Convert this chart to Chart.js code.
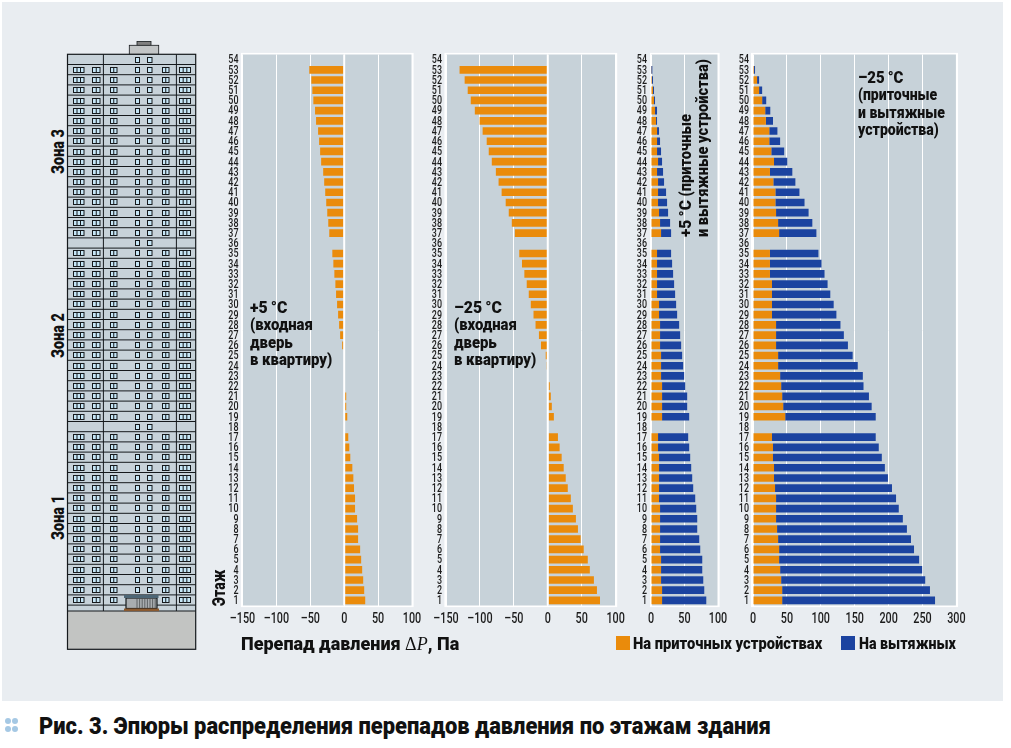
<!DOCTYPE html>
<html lang="ru">
<head>
  <meta charset="UTF-8"/>
  <title>Рис. 3</title>
  <script src="https://cdn.jsdelivr.net/npm/chart.js"></script>
  <style>
    html, body { margin: 0; padding: 0; background: #fff; }
    body { width: 1011px; height: 748px; position: relative; overflow: hidden; color: #111;
           font-family: Roboto, sans-serif; font-weight: 900; }
    #panel { position: absolute; left: 2px; top: 2px; width: 1001px; height: 699px; background: #e9edf1; }
    canvas { position: absolute; }
    #building { position: absolute; left: 0; top: 0; }
    .txt { position: absolute; white-space: nowrap; transform-origin: 0 0; }
    .note { font-size: 16px; line-height: 17.4px; }
    .big { font-size: 17px; }
    .rot { font-size: 18px; }
    .sq { position: absolute; width: 14px; height: 14px; top: 636px; }
    .dot { position: absolute; width: 6px; height: 6px; border-radius: 50%; background: #a5c8e4; }
  </style>
</head>
<body>
  <div id="panel"></div>
  <svg id="building" width="210" height="660"></svg>

  <canvas id="chartA" width="219" height="600" style="left:205px;top:40px"></canvas>
  <canvas id="chartB" width="206" height="600" style="left:424px;top:40px"></canvas>
  <canvas id="chartC" width="103" height="600" style="left:630px;top:40px"></canvas>
  <canvas id="chartD" width="242" height="600" style="left:733px;top:40px"></canvas>

  <div class="txt rot" style="left:47px;top:174px;transform:rotate(-90deg) scaleX(.8)">Зона 3</div>
  <div class="txt rot" style="left:47px;top:358px;transform:rotate(-90deg) scaleX(.8)">Зона 2</div>
  <div class="txt rot" style="left:47px;top:540px;transform:rotate(-90deg) scaleX(.8)">Зона 1</div>
  <div class="txt rot" style="left:208px;top:606px;transform:rotate(-90deg) scaleX(.78)">Этаж</div>

  <div class="txt note" style="left:250px;top:299px;transform:scaleX(.93)"><span class="big">+5&#8201;°C</span><br>(входная<br>дверь<br>в квартиру)</div>
  <div class="txt note" style="left:454px;top:299px;transform:scaleX(.93)"><span class="big">–25&#8201;°C</span><br>(входная<br>дверь<br>в квартиру)</div>
  <div class="txt note" style="left:858px;top:69px;transform:scaleX(.88)"><span class="big">–25&#8201;°C</span><br>(приточные<br>и вытяжные<br>устройства)</div>
  <div class="txt note" style="left:677px;top:237px;transform:rotate(-90deg) scaleX(.915)"><span class="big">+5&#8201;°C</span> (приточные<br>и вытяжные устройства)</div>

  <div class="txt" style="left:241px;top:632px;font-size:19px;transform:scaleX(.947)">Перепад давления <span style="font-family:'Liberation Serif';font-weight:normal">Δ<i>P</i></span>, Па</div>

  <div class="sq" style="left:616px;background:#ea8b0b"></div>
  <div class="txt" style="left:633px;top:634px;font-size:16px;transform:scaleX(.919)">На приточных устройствах</div>
  <div class="sq" style="left:841px;background:#1b43a0"></div>
  <div class="txt" style="left:859px;top:634px;font-size:16px;transform:scaleX(.888)">На вытяжных</div>

  <div class="dot" style="left:5px;top:718px"></div>
  <div class="dot" style="left:12px;top:718px"></div>
  <div class="dot" style="left:5px;top:726px"></div>
  <div class="dot" style="left:12px;top:726px"></div>
  <div class="txt" id="caption" style="left:39px;top:712px;font-size:24px;transform:scaleX(.912)">Рис. 3. Эпюры распределения перепадов давления по этажам здания</div>

  <script>
    const floors = [54,53,52,51,50,49,48,47,46,45,44,43,42,41,40,39,38,37,36,35,34,33,32,31,30,29,28,27,
      26,25,24,23,22,21,20,19,18,17,16,15,14,13,12,11,10,9,8,7,6,5,4,3,2,1];

    // входная дверь, +5 и -25
    const doorPlus5 = [null,-51.5,-48.5,-47,-45.5,-43,-41.5,-38.5,-37,-35.5,-34,-31,-29.5,-28,-26.5,-25,-23.5,-22,
      null,-17.5,-16,-14.5,-13,-12,-10.5,-9,-7.5,-6,-3,null,null,null,null,3,3,4.5,
      null,6,7.5,9,12,13.5,14.5,16,16,19,20.5,20.5,23.5,25,26.5,28,29.5,31];
    const doorMinus25 = [null,-130,-122.5,-118,-113.5,-107.5,-100.5,-96,-90,-87,-82.5,-76.5,-72.5,-68,-62,-57.5,-53,-48.5,
      null,-42,-38,-34.5,-31,-28,-25,-21,-18,-13,-10,-3,-1.5,null,3,4.5,6,9,
      null,15,17.5,20.5,23.5,26.5,29.5,34,37,41.5,44.5,48.5,53,59,62,68,72.5,77];

    // приточные / вытяжные, +5
    const supplyPlus5 = [null,0.5,1.5,3,4.5,6,7.5,9,9,9,10.5,9,10.5,10.5,10.5,12,13.5,15,
      null,9,9,9,9,9,12,12,13.5,13.5,13.5,15,15,15,16.5,16.5,16.5,16.5,
      null,10.5,10.5,12,12,12,12,12,13.5,13.5,13.5,13.5,13.5,15,15,15,16.5,16.5];
    const exhaustPlus5 = [null,1.5,1.5,1.5,1.5,3,1.5,3,4.5,6,6,9,9,12,13.5,13.5,15,15,
      null,21,22.5,24,25.5,27,25.5,27,28.5,30,31.5,31.5,33,34.5,34.5,37.5,37.5,40.5,
      null,45,46.5,46.5,48,49.5,51,54,54,55.5,55.5,58.5,60,61.5,61.5,63,63,66];

    // приточные / вытяжные, -25
    const supplyMinus25 = [null,1.5,6,9,13.5,18,19,24,24,27,31,25,30,33,33,34,37,38.5,
      null,25,25,25,28,28,28,28,34,34,34,37,37,40,41.5,43,44.5,47.5,
      null,28,29.5,29.5,31,31,32.5,34,34,34,35.5,37,38.5,38.5,40,41.5,43,43];
    const exhaustMinus25 = [null,1.5,3,4.5,6,7.5,10.5,12,16,19,19.5,33,32.5,35.5,43,48,50.5,55,
      null,71.5,76,80.5,82,86,91,95,95,100,106,110,117.5,122,121.5,128,130.5,133.5,
      null,153,156,160.5,163.5,168,172.5,177,181,187,191.5,196,199,206.5,209.5,212.5,218,225.5];

    const orange = '#ea8b0b';
    const blue = '#1b43a0';
    const plotColor = '#c7d2d9';

    function fmtTick(v) { return v < 0 ? '–' + Math.abs(v) : String(v); }

    // подписи делений сжаты по ширине, как узкий шрифт в оригинале
    function narrowText(ctx, text, x, y, k) {
      ctx.save();
      ctx.translate(x, y);
      ctx.scale(k, 1);
      ctx.fillText(text, 0, 0);
      ctx.restore();
    }

    // серый фон с белой рамкой, белая линия нуля поверх столбцов, подписи осей
    const framePlugin = {
      id: 'frame',
      beforeDraw(chart) {
        const { ctx, chartArea: a } = chart;
        const o = chart.options.frameLeft;
        ctx.fillStyle = '#fff';
        ctx.fillRect(a.left - o, a.top - 1.6, a.right - a.left + o + 1.6, a.bottom - a.top + 3.2);
        ctx.fillStyle = plotColor;
        ctx.fillRect(a.left, a.top, a.right - a.left - 0.5, a.bottom - a.top);
      },
      afterDatasetsDraw(chart) {
        const x = chart.scales.x;
        if (x.min >= 0) return;
        const { ctx, chartArea: a } = chart;
        ctx.fillStyle = '#fff';
        ctx.fillRect(x.getPixelForValue(0) - 1, a.top, 2, a.bottom - a.top);
      },
      afterDraw(chart) {
        const { ctx, chartArea: a, scales } = chart;
        ctx.save();
        ctx.fillStyle = '#1c1c1c';
        ctx.textBaseline = 'middle';
        ctx.font = '500 13.5px Roboto';
        ctx.textAlign = 'right';
        scales.y.ticks.forEach((t, i) => {
          narrowText(ctx, t.label, a.left - 4, scales.y.getPixelForTick(i) + 0.5, 0.66);
        });
        ctx.font = '500 15px Roboto';
        ctx.textAlign = 'center';
        scales.x.ticks.forEach((t, i) => {
          narrowText(ctx, t.label, scales.x.getPixelForTick(i), a.bottom + 14, 0.72);
        });
        ctx.restore();
      }
    };

    function makeChart(id, datasets, cfg) {
      const el = document.getElementById(id);
      return new Chart(el, {
        type: 'bar',
        data: { labels: floors, datasets },
        plugins: [framePlugin],
        options: {
          indexAxis: 'y',
          responsive: false,
          animation: false,
          frameLeft: cfg.frameLeft,
          layout: { padding: { top: 14.5, right: el.width - cfg.right, bottom: 0, left: 0 } },
          plugins: { legend: { display: false }, tooltip: { enabled: false } },
          datasets: { bar: { categoryPercentage: 0.75, barPercentage: 1 } },
          scales: {
            x: {
              stacked: cfg.stacked,
              min: cfg.min,
              max: cfg.max,
              afterFit(s) { s.height = 34.5; },
              border: { display: false },
              grid: { color: '#fff', lineWidth: 1, drawTicks: false },
              ticks: { display: false, stepSize: 50, callback: fmtTick }
            },
            y: {
              stacked: cfg.stacked,
              afterFit(s) { s.width = cfg.left; },
              border: { display: false },
              grid: { display: false, drawTicks: false },
              ticks: { display: false }
            }
          }
        }
      });
    }

    makeChart('chartA', [{ data: doorPlus5, backgroundColor: orange }],
      { left: 37.5, right: 207, min: -150, max: 100, frameLeft: 1.6 });
    makeChart('chartB', [{ data: doorMinus25, backgroundColor: orange }],
      { left: 22, right: 191.6, min: -150, max: 100, frameLeft: 1.6 });
    makeChart('chartC', [
      { data: supplyPlus5, backgroundColor: orange },
      { data: exhaustPlus5, backgroundColor: blue }
    ], { left: 21, right: 88, min: 0, max: 100, stacked: true, frameLeft: 1 });
    makeChart('chartD', [
      { data: supplyMinus25, backgroundColor: orange },
      { data: exhaustMinus25, backgroundColor: blue }
    ], { left: 20, right: 223.4, min: 0, max: 300, stacked: true, frameLeft: 2 });

    // здание слева: этажи идут в том же шаге, что и строки графиков
    function drawBuilding() {
      const svg = document.getElementById('building');
      const pitch = 10.2, top = 54.3, line = '#15191c', glass = '#c6e6f6';
      let s = `<rect x="137" y="41.5" width="14" height="4" fill="#808080" stroke="${line}" stroke-width="0.8"/>`;
      s += `<rect x="129.3" y="45.3" width="29.4" height="9" fill="#c2c5c6" stroke="${line}" stroke-width="0.8"/>`;
      s += `<rect x="67.5" y="${top}" width="128.2" height="557" fill="${plotColor}"/>`;
      const win = (x, y, w, parts) => {
        let r = `<rect x="${x}" y="${y}" width="${w}" height="5" fill="${glass}" stroke="${line}" stroke-width="1"/>`;
        for (let i = 1; i < parts; i++) {
          const lx = x + w * i / parts;
          r += `<line x1="${lx}" y1="${y}" x2="${lx}" y2="${y + 5}" stroke="${line}" stroke-width="1"/>`;
        }
        return r;
      };
      floors.forEach((f, i) => {
        const y = top + i * pitch;
        const wy = Math.round(y + 2.4) + 0.5;
        s += `<line x1="67.5" y1="${y + pitch}" x2="195.7" y2="${y + pitch}" stroke="${line}" stroke-width="1"/>`;
        if (f !== 1) {
          s += win(135.5, wy, 4, 1) + win(147.5, wy, 4.5, 1);
        }
        if (f !== 54 && f !== 36 && f !== 18) {
          s += win(73.5, wy, 10.5, 3) + win(92.5, wy, 7.5, 2) + win(110.5, wy, 6.5, 2);
          s += win(162.5, wy, 6.5, 2) + win(179.5, wy, 11, 3);
        }
      });
      s += `<rect x="67.5" y="611" width="128.2" height="38.3" fill="#c2c4c2"/>`;
      s += `<line x1="67.5" y1="611" x2="195.7" y2="611" stroke="${line}" stroke-width="1.2"/>`;
      s += `<rect x="67.5" y="${top}" width="128.2" height="595" fill="none" stroke="${line}" stroke-width="1.2"/>`;
      s += `<line x1="103.4" y1="${top}" x2="103.4" y2="611" stroke="${line}" stroke-width="1"/>`;
      s += `<line x1="176.4" y1="${top}" x2="176.4" y2="611" stroke="${line}" stroke-width="1"/>`;
      // подъезд
      s += `<rect x="126" y="598" width="31" height="10.5" fill="#a9adb0" stroke="${line}" stroke-width="1.2"/>`;
      for (let x = 137; x < 156; x += 2.6) {
        s += `<line x1="${x}" y1="598" x2="${x}" y2="608" stroke="#4b4f52" stroke-width="0.8"/>`;
      }
      s += `<rect x="124" y="595" width="34.5" height="3" fill="#4d6675"/>`;
      s += `<rect x="124" y="608.5" width="35" height="2.6" fill="#8a5a30"/>`;
      svg.innerHTML = s;
    }
    drawBuilding();
  </script>
</body>
</html>
